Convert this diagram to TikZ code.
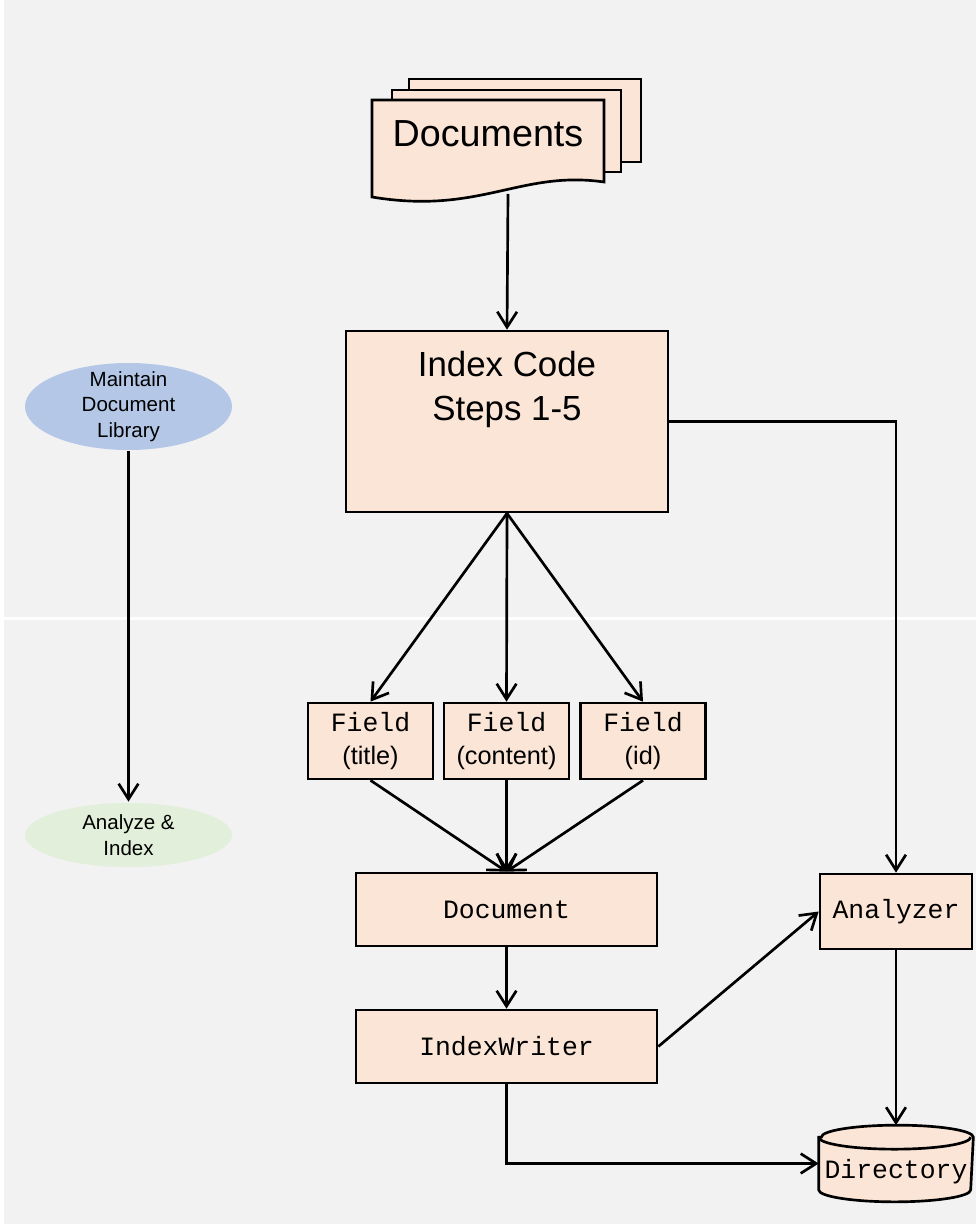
\documentclass[tikz,border=0pt]{standalone}
\usepackage{fontspec}
\setmainfont{Liberation Sans}
\newfontfamily\codefont{Liberation Mono}
\usepackage{tikz}
\usetikzlibrary{shapes.geometric,arrows.meta,calc}

\definecolor{paper}{HTML}{F2F2F2}
\definecolor{peach}{HTML}{FBE5D6}
\definecolor{skyblue}{HTML}{B4C7E7}
\definecolor{palegreen}{HTML}{E2EFDA}

% one drawing unit
\def\pxl{0.025cm}
\newcommand{\fieldof}[1]{{\codefont\fontsize{18.8}{23.5}\selectfont Field}\\(#1)}

\begin{document}
\begin{tikzpicture}[x=\pxl,y=-\pxl,line width=1.9pt]
      \tikzstyle{block} = [draw,fill=peach,inner sep=0pt,align=center]
      \tikzstyle{codebox} = [block,font=\codefont\fontsize{18.8}{23.5}\selectfont]
      \tikzstyle{fieldbox} = [block,minimum width=125*\pxl,minimum height=76*\pxl,font=\fontsize{18}{23.5}\selectfont]
      \tikzstyle{widebox} = [codebox,minimum width=301*\pxl,minimum height=73*\pxl]
      \tikzstyle{usecase} = [ellipse,inner sep=0pt,minimum width=207*\pxl]
      \tikzstyle{usetext} = [align=center,inner sep=0pt,font=\fontsize{14.6}{18.1}\selectfont]
      \tikzstyle{drumcap} = [x radius=76*\pxl,y radius=12*\pxl]
      \tikzstyle{arr} = [-{Straight Barb[length=11pt,width=14pt]}]
      %
      % Page and the white rule across it.
      \useasboundingbox (0,0) rectangle (976,1227);
      \fill[white] (0,0) rectangle (976,1227);
      \fill[paper] (4,0) rectangle (976,1224);
      \fill[white] (4,616.5) rectangle (976,620);

      % Stack of documents.
      \draw[fill=peach] (409,79) rectangle (641,162);
      \draw[fill=peach] (392,90) rectangle (621,172);
      \draw[fill=peach] (372,100) -- (604,100) -- (604,182)
            .. controls (520,170) and (480,215) .. (372,197) -- cycle;
      \node[font=\fontsize{26.8}{32}\selectfont] (docs) at (488,134) {Documents};
      \coordinate (docsout) at (508,194);

      % Index code and its fields.
      \node[block,minimum width=322*\pxl,minimum height=181*\pxl] (index) at (507,421.5) {};
      \node[align=center,inner sep=0pt,anchor=north,font=\fontsize{24.8}{31.3}\selectfont]
            (indextxt) at ($(index.north)+(0,20)$) {Index Code\\Steps 1-5};

      \node[fieldbox] (ftitle) at (370.5,741) {\fieldof{title}};
      \node[fieldbox] (fcontent) at (506.5,741) {\fieldof{content}};
      \node[fieldbox] (fid) at (643,741) {\fieldof{id}};

      \node[widebox] (doc) at (506.5,909.5) {Document};
      \node[widebox] (writer) at (506.5,1046.5) {IndexWriter};
      \node[codebox,minimum width=152*\pxl,minimum height=75*\pxl] (analyzer) at (896,911.5) {Analyzer};

      % Directory drum.
      \node[inner sep=0pt,minimum width=152*\pxl,minimum height=74*\pxl] (dir) at (896,1163.5) {};
      \draw[fill=peach] ($(dir.north west)+(0,12)$) -- ($(dir.south west)+(0,-12)$)
            arc[drumcap,start angle=180,end angle=360] -- ($(dir.north east)+(0,12)$)
            arc[drumcap,start angle=0,end angle=180] -- cycle;
      \draw ($(dir.north west)+(0,12)$) arc[drumcap,start angle=180,end angle=360];
      \node[font=\codefont\fontsize{18.8}{23.5}\selectfont,inner sep=0pt] (dirtxt) at ($(dir.center)+(0,8)$) {Directory};

      % Use cases on the left.
      \node[usecase,fill=skyblue,minimum height=87*\pxl] (maintain) at (128.5,406.5) {};
      \node[usetext] (maintaintxt) at (maintain) {Maintain\\Document\\Library};
      \node[usecase,fill=palegreen,minimum height=64*\pxl] (analyze) at (128.5,835) {};
      \node[usetext] (analyzetxt) at (analyze) {Analyze \&\\Index};

      % Draw lines.
      \draw[arr] (docsout) -- (index.north);
      \draw[arr] (index.east) -| (analyzer.north);
      \foreach \f in {ftitle,fcontent,fid} {
            \draw[arr] (index.south) -- (\f.north);
            \draw[arr] (\f.south) -- (doc.north);
      }
      \draw[arr] (doc) -- (writer);
      \draw[arr] (writer.east) -- (analyzer.west);
      \draw[arr] (analyzer.south) -- (dir.north);
      \draw[arr] (writer.south) |- (dir.west);
      \draw[arr] (maintain) -- (analyze);
      %
\end{tikzpicture}
\end{document}
